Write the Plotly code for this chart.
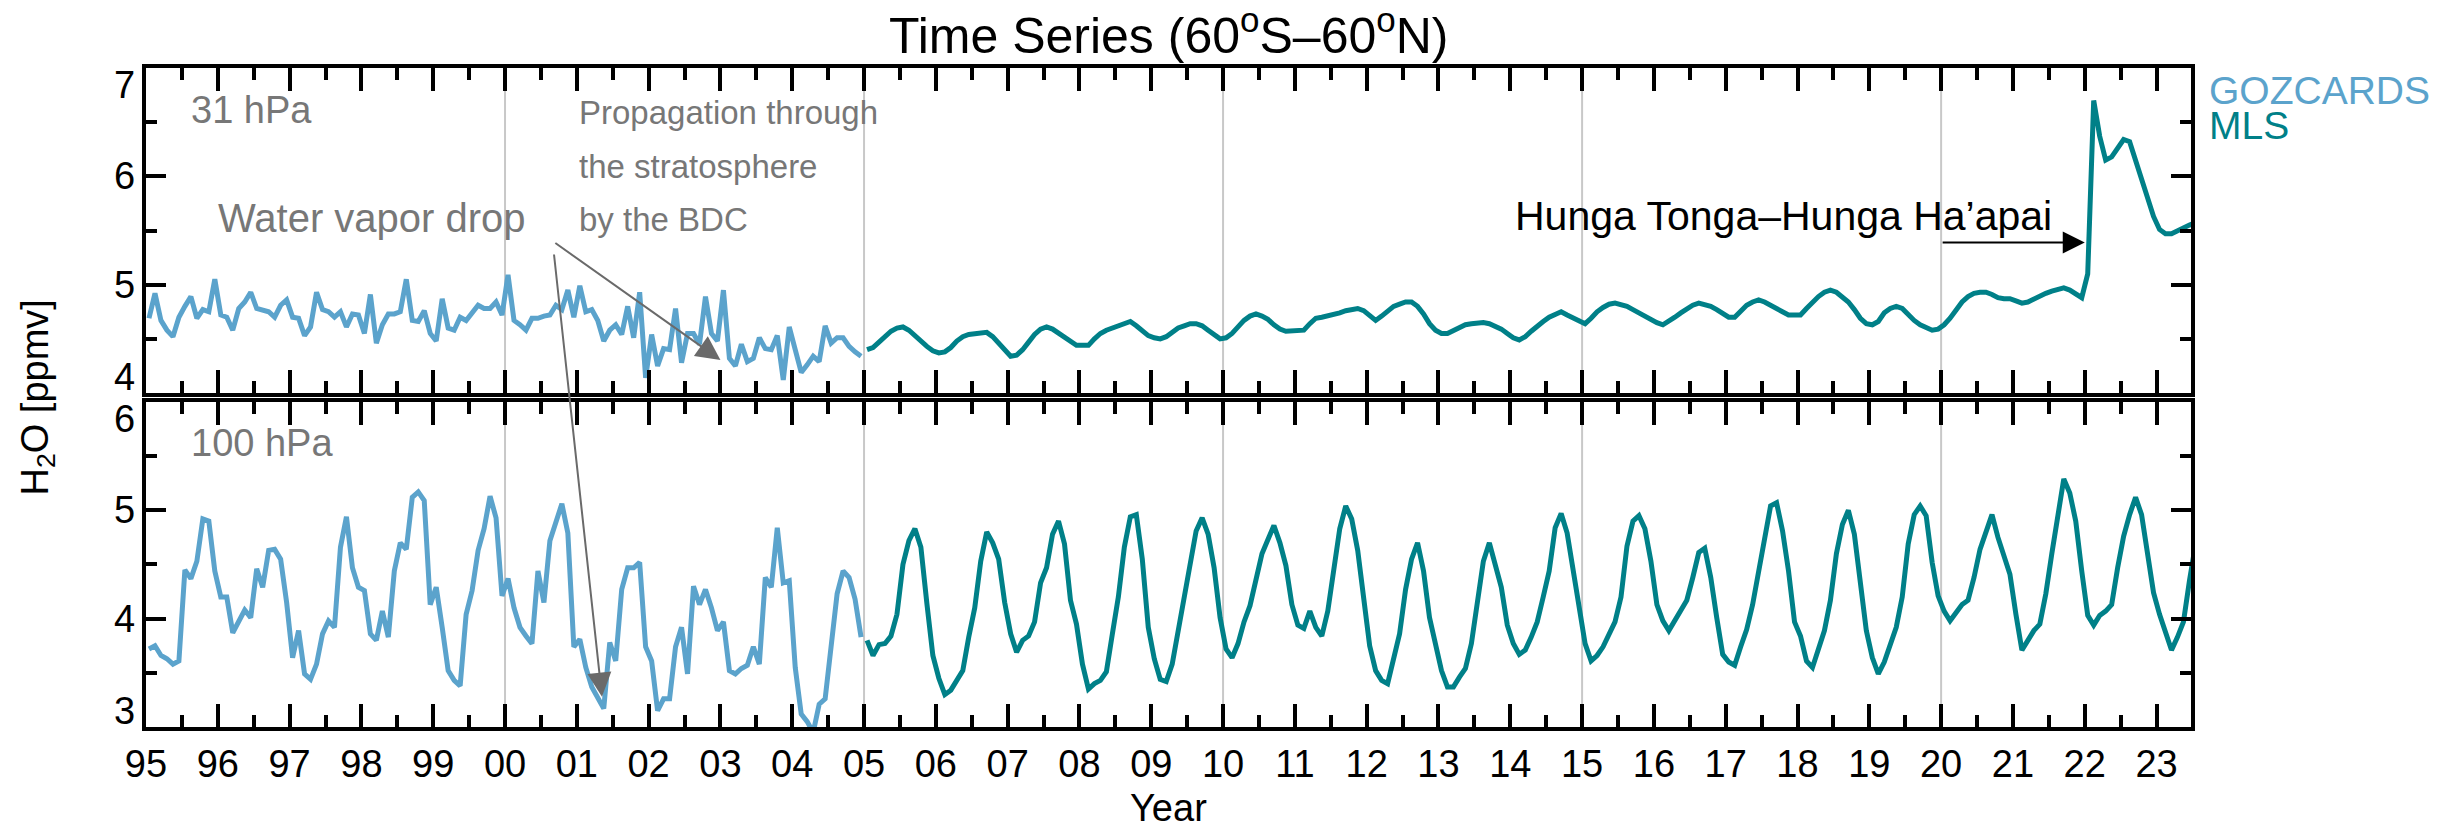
import plotly.graph_objects as go

# ---------------- data (monthly means, ppmv) ----------------
goz_start_year = 1995   # first GOZCARDS month: Jan 1995
mls_start_year = 2005   # first MLS month: Jan 2005

goz_31hpa = [4.69, 4.92, 4.67, 4.58, 4.52, 4.70, 4.80, 4.89, 4.69, 4.77, 4.75, 5.05,
             4.72, 4.70, 4.58, 4.78, 4.84, 4.93, 4.78, 4.76, 4.75, 4.70, 4.81, 4.86,
             4.70, 4.69, 4.53, 4.61, 4.93, 4.77, 4.75, 4.70, 4.75, 4.61, 4.73, 4.72,
             4.55, 4.91, 4.46, 4.63, 4.73, 4.73, 4.75, 5.05, 4.67, 4.66, 4.76, 4.55,
             4.48, 4.87, 4.60, 4.58, 4.70, 4.67, 4.75, 4.81, 4.78, 4.78, 4.84, 4.72,
             5.09, 4.67, 4.63, 4.58, 4.69, 4.69, 4.71, 4.72, 4.81, 4.77, 4.95, 4.70,
             4.99, 4.75, 4.77, 4.67, 4.48, 4.58, 4.63, 4.54, 4.80, 4.51, 4.93, 4.14,
             4.54, 4.25, 4.41, 4.40, 4.78, 4.28, 4.55, 4.55, 4.45, 4.89, 4.55, 4.48,
             4.95, 4.32, 4.25, 4.45, 4.29, 4.32, 4.51, 4.41, 4.40, 4.53, 4.12, 4.61,
             4.40, 4.19, 4.26, 4.34, 4.29, 4.62, 4.46, 4.51, 4.51, 4.43, 4.38, 4.34]

goz_100hpa = [3.72, 3.75, 3.66, 3.63, 3.58, 3.61, 4.45, 4.37, 4.53, 4.92, 4.90, 4.44,
              4.20, 4.20, 3.87, 3.97, 4.08, 4.01, 4.46, 4.29, 4.63, 4.64, 4.55, 4.15,
              3.64, 3.89, 3.49, 3.44, 3.58, 3.86, 3.98, 3.92, 4.66, 4.94, 4.47, 4.29,
              4.26, 3.86, 3.80, 4.07, 3.83, 4.44, 4.70, 4.64, 5.12, 5.17, 5.09, 4.13,
              4.29, 3.92, 3.52, 3.43, 3.38, 4.04, 4.26, 4.63, 4.83, 5.13, 4.93, 4.21,
              4.37, 4.10, 3.92, 3.84, 3.77, 4.44, 4.15, 4.72, 4.89, 5.06, 4.79, 3.74,
              3.81, 3.55, 3.37, 3.26, 3.17, 3.78, 3.61, 4.27, 4.47, 4.47, 4.52, 3.74,
              3.61, 3.15, 3.26, 3.26, 3.74, 3.92, 3.49, 4.30, 4.13, 4.27, 4.10, 3.89,
              3.97, 3.52, 3.49, 3.54, 3.57, 3.74, 3.58, 4.38, 4.29, 4.84, 4.33, 4.35,
              3.55, 3.12, 3.05, 2.95, 3.21, 3.26, 3.75, 4.23, 4.44, 4.38, 4.18, 3.83]

mls_31hpa = [4.40, 4.42, 4.47, 4.52, 4.57, 4.60, 4.61, 4.58, 4.53, 4.47, 4.43, 4.39,
             4.37, 4.38, 4.42, 4.48, 4.52, 4.54, 4.55, 4.56, 4.56, 4.52, 4.46, 4.39,
             4.34, 4.35, 4.40, 4.47, 4.54, 4.59, 4.61, 4.59, 4.55, 4.51, 4.47, 4.44,
             4.44, 4.44, 4.50, 4.55, 4.58, 4.60, 4.63, 4.64, 4.66, 4.62, 4.57, 4.53,
             4.51, 4.50, 4.52, 4.56, 4.60, 4.62, 4.64, 4.64, 4.62, 4.58, 4.54, 4.50,
             4.51, 4.55, 4.61, 4.67, 4.71, 4.73, 4.71, 4.68, 4.63, 4.59, 4.57, 4.57,
             4.57, 4.58, 4.64, 4.69, 4.70, 4.71, 4.72, 4.74, 4.76, 4.77, 4.78, 4.76,
             4.72, 4.67, 4.71, 4.76, 4.80, 4.82, 4.84, 4.84, 4.80, 4.73, 4.64, 4.58,
             4.55, 4.55, 4.58, 4.61, 4.63, 4.64, 4.65, 4.65, 4.64, 4.62, 4.59, 4.55,
             4.51, 4.49, 4.52, 4.57, 4.62, 4.66, 4.70, 4.73, 4.75, 4.72, 4.69, 4.66,
             4.64, 4.69, 4.75, 4.79, 4.82, 4.83, 4.82, 4.80, 4.77, 4.74, 4.70, 4.68,
             4.65, 4.63, 4.66, 4.70, 4.74, 4.78, 4.81, 4.83, 4.82, 4.80, 4.77, 4.74,
             4.70, 4.70, 4.76, 4.81, 4.84, 4.86, 4.84, 4.81, 4.77, 4.74, 4.72, 4.72,
             4.72, 4.78, 4.84, 4.89, 4.93, 4.95, 4.93, 4.89, 4.84, 4.77, 4.69, 4.64,
             4.63, 4.66, 4.74, 4.78, 4.80, 4.78, 4.72, 4.67, 4.63, 4.60, 4.58, 4.59,
             4.63, 4.69, 4.76, 4.84, 4.89, 4.92, 4.93, 4.93, 4.91, 4.88, 4.87, 4.87,
             4.85, 4.83, 4.84, 4.87, 4.90, 4.92, 4.94, 4.96, 4.97, 4.95, 4.92, 4.88,
             5.10, 6.70, 6.37, 6.15, 6.18, 6.27, 6.34, 6.32, 6.15, 5.96, 5.78, 5.63,
             5.51, 5.47, 5.47, 5.50, 5.52, 5.55, 5.57]

mls_100hpa = [3.80, 3.66, 3.76, 3.77, 3.84, 4.04, 4.50, 4.72, 4.83, 4.66, 4.14, 3.66,
              3.45, 3.30, 3.34, 3.43, 3.52, 3.83, 4.10, 4.53, 4.80, 4.70, 4.55, 4.15,
              3.86, 3.69, 3.80, 3.84, 3.97, 4.33, 4.47, 4.78, 4.90, 4.69, 4.17, 3.95,
              3.58, 3.35, 3.40, 3.43, 3.51, 3.86, 4.20, 4.66, 4.94, 4.96, 4.55, 3.92,
              3.63, 3.44, 3.42, 3.58, 3.89, 4.23, 4.53, 4.81, 4.93, 4.78, 4.47, 4.01,
              3.72, 3.64, 3.77, 3.97, 4.12, 4.38, 4.60, 4.73, 4.86, 4.70, 4.49, 4.13,
              3.94, 3.91, 4.07, 3.92, 3.84, 4.07, 4.44, 4.83, 5.04, 4.92, 4.63, 4.20,
              3.75, 3.52, 3.43, 3.40, 3.61, 3.86, 4.27, 4.55, 4.70, 4.44, 4.01, 3.77,
              3.52, 3.37, 3.37, 3.46, 3.54, 3.77, 4.17, 4.53, 4.70, 4.50, 4.29, 3.94,
              3.77, 3.67, 3.71, 3.83, 3.97, 4.20, 4.44, 4.84, 4.97, 4.79, 4.47, 4.10,
              3.77, 3.61, 3.66, 3.74, 3.86, 3.97, 4.20, 4.67, 4.90, 4.95, 4.83, 4.53,
              4.13, 3.98, 3.89, 3.98, 4.08, 4.17, 4.38, 4.61, 4.65, 4.38, 4.01, 3.67,
              3.60, 3.57, 3.74, 3.90, 4.13, 4.44, 4.75, 5.04, 5.07, 4.81, 4.44, 3.97,
              3.84, 3.61, 3.55, 3.71, 3.89, 4.17, 4.60, 4.87, 5.00, 4.78, 4.32, 3.89,
              3.64, 3.49, 3.60, 3.75, 3.92, 4.20, 4.69, 4.96, 5.04, 4.95, 4.52, 4.21,
              4.07, 3.98, 4.06, 4.13, 4.17, 4.38, 4.64, 4.81, 4.96, 4.75, 4.56, 4.41,
              4.04, 3.71, 3.80, 3.89, 3.95, 4.23, 4.60, 4.96, 5.29, 5.16, 4.90, 4.44,
              4.03, 3.94, 4.03, 4.07, 4.13, 4.47, 4.76, 4.96, 5.12, 4.96, 4.56, 4.24,
              4.04, 3.86, 3.71, 3.83, 3.97, 4.35, 4.68]

years = list(range(1995, 2024))
year_labels = [str(y)[-2:] for y in years]
grid_years = [2000, 2005, 2010, 2015, 2020]
top_yticks = [4, 5, 6, 7]
bot_yticks = [3, 4, 5, 6]

GOZ_COLOR = "#5BA3CC"
MLS_COLOR = "#008088"
NOTE_GRAY = "#777777"
ARROW_GRAY = "#6a6a6a"
FONT = "Liberation Sans, Arial, Helvetica, sans-serif"

t_goz = [goz_start_year + (i + 0.5) / 12 for i in range(len(goz_31hpa))]
t_mls = [mls_start_year + (k + 0.5) / 12 for k in range(len(mls_31hpa))]

fig = go.Figure()
LW = 5
fig.add_trace(go.Scatter(x=t_goz, y=goz_31hpa, xaxis="x", yaxis="y", mode="lines",
                         line=dict(color=GOZ_COLOR, width=LW), showlegend=False))
fig.add_trace(go.Scatter(x=t_mls, y=mls_31hpa, xaxis="x", yaxis="y", mode="lines",
                         line=dict(color=MLS_COLOR, width=LW), showlegend=False))
fig.add_trace(go.Scatter(x=t_goz, y=goz_100hpa, xaxis="x2", yaxis="y2", mode="lines",
                         line=dict(color=GOZ_COLOR, width=LW), showlegend=False))
fig.add_trace(go.Scatter(x=t_mls, y=mls_100hpa, xaxis="x2", yaxis="y2", mode="lines",
                         line=dict(color=MLS_COLOR, width=LW), showlegend=False))

half_years = [y + 0.5 for y in years[:-1]]

def xax(anchor, labels):
    return dict(anchor=anchor, domain=[0, 1], range=[1995, 2023.48],
                tickmode="array", tickvals=years, ticktext=year_labels,
                showticklabels=labels, ticks="inside", ticklen=23, tickwidth=3.5,
                tickcolor="black", showline=True, linewidth=4, linecolor="black",
                mirror="allticks", showgrid=False, zeroline=False,
                tickfont=dict(size=38, color="black", family=FONT),
                minor=dict(tickmode="array", tickvals=half_years, ticks="inside",
                           ticklen=12, tickwidth=3.5, tickcolor="black", showgrid=False))

def yax(anchor, dom, rng, vals):
    return dict(anchor=anchor, domain=dom, range=rng, tickmode="array", tickvals=vals,
                showticklabels=False,
                ticks="inside", ticklen=20, tickwidth=3.5, tickcolor="black",
                showline=True, linewidth=4, linecolor="black", mirror="allticks",
                showgrid=False, zeroline=False,
                minor=dict(tickmode="array", tickvals=[v + 0.5 for v in vals[:-1]],
                           ticks="inside", ticklen=11, tickwidth=3.5, tickcolor="black",
                           showgrid=False))

fig.update_layout(
    width=2453, height=828,
    margin=dict(l=146, r=262, t=68, b=101),
    paper_bgcolor="white", plot_bgcolor="white",
    font=dict(family=FONT, size=38, color="black"),
    xaxis=xax("y", False),
    xaxis2=xax("y2", True),
    yaxis=yax("x", [0.5068, 1.0], [4, 7], top_yticks),
    yaxis2=yax("x2", [0.0, 0.4932], [3, 6], bot_yticks),
)

for gy in grid_years:
    for xr, yr in (("x", "y domain"), ("x2", "y2 domain")):
        fig.add_shape(type="line", xref=xr, yref=yr, x0=gy, x1=gy, y0=0, y1=1,
                      line=dict(color="#c8c8c8", width=2), layer="below")

ann = []
# y tick labels: end labels kept inside their panel, as in the reference
for yref, vals in (("y", top_yticks), ("y2", bot_yticks)):
    for j, v in enumerate(vals):
        if j == 0:
            ya, ys = "bottom", -7
        elif j == len(vals) - 1:
            ya, ys = "top", 6
        else:
            ya, ys = "middle", 0
        ann.append(dict(text=str(v), xref="paper", yref=yref, x=0, y=v, xanchor="right",
                        yanchor=ya, xshift=-9, yshift=ys, showarrow=False,
                        font=dict(size=38, color="black")))

ann.append(dict(text="Time Series (60<sup>o</sup>S–60<sup>o</sup>N)", xref="paper", yref="paper",
                x=0.5, y=1.055, xanchor="center", yanchor="middle", showarrow=False,
                font=dict(size=50, color="black")))
ann.append(dict(text="H<sub>2</sub>O [ppmv]", xref="paper", yref="paper", x=-0.0533, y=0.5,
                xanchor="center", yanchor="middle", textangle=-90, showarrow=False,
                font=dict(size=38, color="black")))
ann.append(dict(text="Year", xref="paper", yref="paper", x=0.5, y=-0.123,
                xanchor="center", yanchor="middle", showarrow=False,
                font=dict(size=38, color="black")))
ann.append(dict(text="GOZCARDS", xref="paper", yref="paper", x=1.0078, y=0.9666,
                xanchor="left", yanchor="middle", showarrow=False,
                font=dict(size=39, color=GOZ_COLOR)))
ann.append(dict(text="MLS", xref="paper", yref="paper", x=1.0078, y=0.9135,
                xanchor="left", yanchor="middle", showarrow=False,
                font=dict(size=39, color=MLS_COLOR)))
ann.append(dict(text="31 hPa", xref="x", yref="y", x=1995.6, y=6.61, xanchor="left",
                yanchor="middle", showarrow=False, font=dict(size=38, color=NOTE_GRAY)))
ann.append(dict(text="100 hPa", xref="x2", yref="y2", x=1995.6, y=5.62, xanchor="left",
                yanchor="middle", showarrow=False, font=dict(size=38, color=NOTE_GRAY)))
ann.append(dict(text="Water vapor drop", xref="x", yref="y", x=1995.98, y=5.62,
                xanchor="left", yanchor="middle", showarrow=False,
                font=dict(size=40, color=NOTE_GRAY)))
for txt, yy in (("Propagation through", 6.59), ("the stratosphere", 6.09), ("by the BDC", 5.60)):
    ann.append(dict(text=txt, xref="x", yref="y", x=2001.0, y=yy, xanchor="left",
                    yanchor="middle", showarrow=False, font=dict(size=33, color=NOTE_GRAY)))
ann.append(dict(text="Hunga Tonga–Hunga Ha’apai", xref="x", yref="y", x=2014.04, y=5.63,
                xanchor="left", yanchor="middle", showarrow=False,
                font=dict(size=41, color="black")))
# arrows
ann.append(dict(text="", xref="x", yref="y", axref="x", ayref="y", x=2022.0, y=5.39,
                ax=2020.0, ay=5.39, showarrow=True, arrowhead=2, arrowsize=2.2,
                arrowwidth=2, arrowcolor="black"))
ann.append(dict(text="", xref="x", yref="y", axref="x", ayref="y", x=2003.0, y=4.305,
                ax=2000.68, ay=5.394, showarrow=True, arrowhead=2, arrowsize=2.4,
                arrowwidth=2, arrowcolor=ARROW_GRAY))
ann.append(dict(text="", xref="x2", yref="y2", axref="x2", ayref="y2", x=2001.35, y=3.28,
                ax=2000.68, ay=7.375, showarrow=True, arrowhead=2, arrowsize=2.4,
                arrowwidth=2, arrowcolor=ARROW_GRAY))
fig.update_layout(annotations=ann)

fig.write_html("out.html")
